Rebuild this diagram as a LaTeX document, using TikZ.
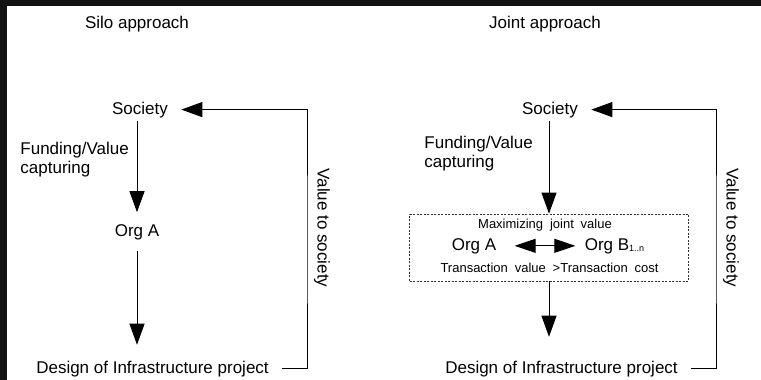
\documentclass[tikz,border=0pt]{standalone}
\usepackage{fontspec}
\setmainfont{Liberation Sans}
\newfontfamily\boxfont[WordSpace=1.9]{Liberation Sans}
\usetikzlibrary{arrows.meta}

\begin{document}
\begin{tikzpicture}[x=1pt, y=-1pt, >={Triangle[length=21pt,width=15pt]}, line width=0.9pt,
        txt/.style={anchor=base, inner xsep=13pt, inner ysep=3.5pt, font=\fontsize{17}{19}\selectfont},
        org/.style={txt, inner ysep=11.5pt},
        small/.style={anchor=base, inner sep=0pt, font=\boxfont\fontsize{13}{15}\selectfont},
        inbox/.style={anchor=base, inner xsep=9pt, inner ysep=3pt, font=\fontsize{17}{19}\selectfont},
        side/.style={anchor=north west, inner sep=0pt, align=left, font=\fontsize{17}{19}\selectfont}]

        % frame of the screenshot
        \fill[black!93] (0,0) rectangle (761,380);
        \fill[white] (7,6) rectangle (761,380);
        \useasboundingbox (0,0) rectangle (761,380);

        % Silo approach
        \node (silo) [txt] at (137,28) {Silo approach};
        \node (soc1) [txt] at (140,114) {Society};
        \node (orgA1) [org] at (137,236) {Org A};
        \node (des1) [txt] at (152.5,373) {Design of Infrastructure project};
        \node (fund1) [side] at (20,142) {Funding/Value\\capturing};
        \node (val1) [txt, anchor=center, rotate=-90] at (322,228) {Value to society};
        \coordinate (ret1) at (307,240);

        \draw [->] (soc1.south -| orgA1.north) -- (orgA1.north);
        \draw [->, shorten >=12pt] (orgA1.south) -- (orgA1.south |- des1.north);
        \draw [->] (des1.east) -| (ret1) |- (soc1.east);

        % Joint approach
        \node (joint) [txt] at (545,28) {Joint approach};
        \node (soc2) [txt] at (550,114) {Society};
        \node (fund2) [side] at (424,136) {Funding/Value\\capturing};
        \node (box) [draw=black!80, dash pattern=on 2pt off 1.5pt, line width=0.8pt, minimum width=279pt, minimum height=67pt, inner sep=0pt] at (549,247.5) {};
        \node (maxv) [small] at (545,228) {Maximizing joint value};
        \node (orgA2) [inbox] at (474,250) {Org A};
        \node (orgB) [inbox] at (614.5,250) {Org B\raisebox{-1pt}{\fontsize{9}{9}\selectfont 1..n}};
        \node (trans) [small] at (549.5,272) {Transaction value >Transaction cost};
        \node (des2) [txt] at (561.5,373) {Design of Infrastructure project};
        \node (val2) [txt, anchor=center, rotate=-90] at (731,228) {Value to society};
        \coordinate (ret2) at (716,240);

        \draw [->] (soc2.south -| box.north) -- (box.north);
        \draw [<->, >={Triangle[length=21pt,width=14pt]}, shorten <=9pt] (orgA2.east) -- (orgB.west);
        \draw [->, shorten >=20pt] (box.south) -- (box.south |- des2.north);
        \draw [->] (des2.east) -| (ret2) |- (soc2.east);
    \end{tikzpicture}
\end{document}
